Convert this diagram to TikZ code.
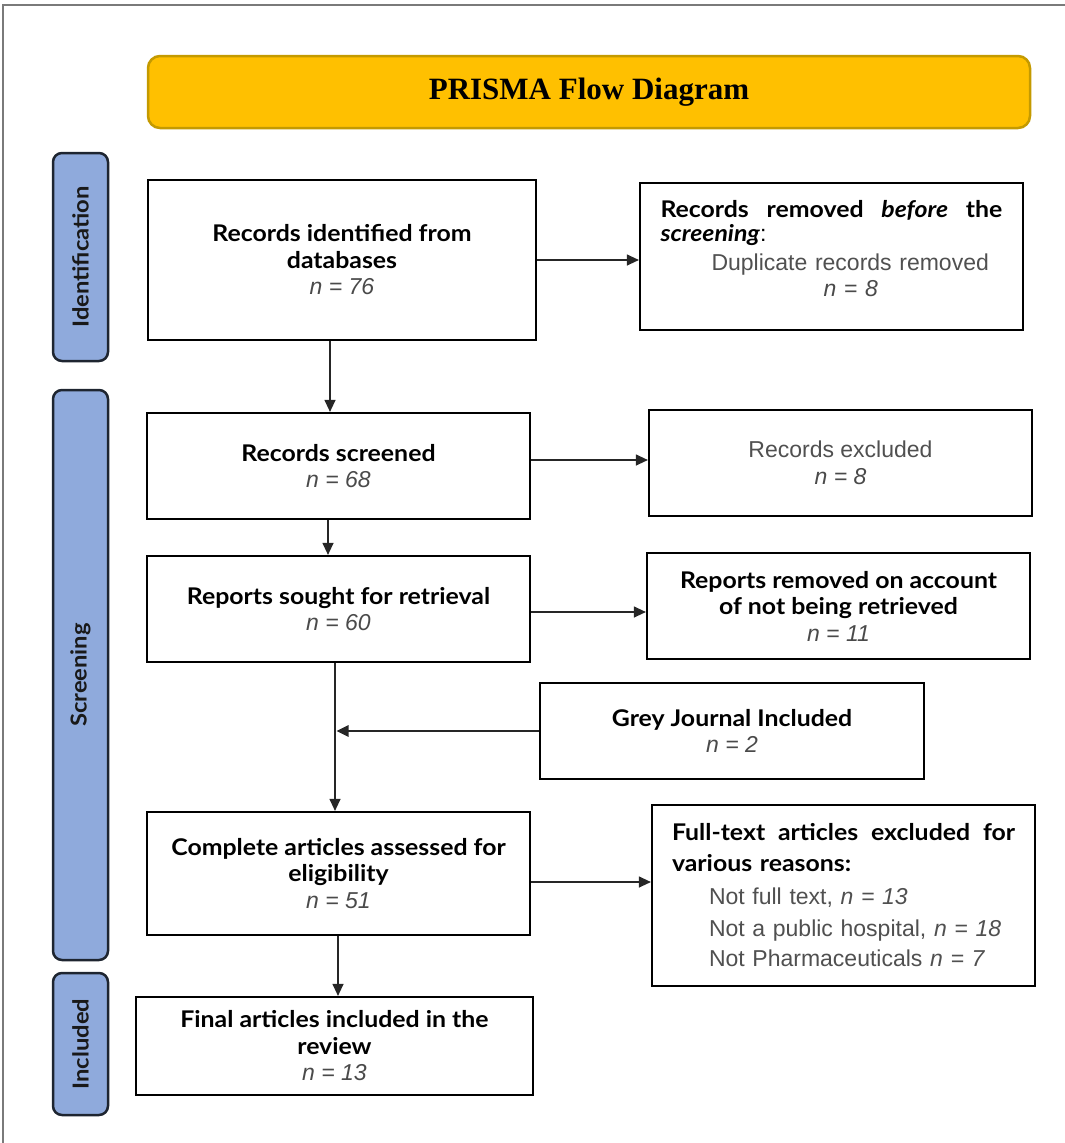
\documentclass[tikz,border=0pt]{standalone}
\usepackage{fontspec}
\setmainfont{Liberation Sans}
\newfontfamily\lato{Lato}[FakeStretch=1.08]
\newfontfamily\timesf{Liberation Serif}
\usetikzlibrary{arrows.meta}
\definecolor{gold}{HTML}{FFC000}
\definecolor{golddark}{HTML}{C49A00}
\definecolor{tabblue}{HTML}{8FAADC}
\definecolor{tabedge}{HTML}{1E2530}
\definecolor{ngray}{HTML}{4A4A4A}
\definecolor{pgray}{HTML}{505050}
\definecolor{framegray}{HTML}{7A7A7A}
\newcommand\nval[1]{{\color{ngray}\itshape n = #1}}
\newcommand\pl[1]{{\color{pgray}#1}}
\newcommand\bt[1]{{\lato\bfseries #1}}
\tikzset{
  box/.style={draw=black, line width=2.2pt, fill=white, inner sep=0pt, align=center,
    font=\fontsize{23}{26.5}\selectfont},
  tab/.style={draw=tabedge, line width=2.5pt, fill=tabblue, rounded corners=9pt, inner sep=0pt,
    rotate=90, font=\lato\bfseries\fontsize{22}{24}\selectfont, text=black!90},
  conn/.style={-{Triangle[length=12pt,width=11pt]}, line width=1.2pt, draw=black!85},
  connthick/.style={conn, line width=2.6pt},
}
\begin{document}
\begin{tikzpicture}[x=1pt,y=-1pt]
\useasboundingbox (0,0) rectangle (1065,1143);
\draw[framegray, line width=1.6pt] (1065,5) -- (3,5) -- (3,1143);

% title
\node[draw=golddark, line width=2.5pt, fill=gold, rounded corners=12pt,
  minimum width=882pt, minimum height=72pt, inner sep=0pt,
  font=\timesf\bfseries\fontsize{31}{34}\selectfont] (title) at (589,92) {PRISMA Flow Diagram};

% phase tabs
\node[tab, minimum width=208pt, minimum height=55pt] (tid) at (80.5,257) {Identification};
\node[tab, minimum width=570pt, minimum height=55pt] (tsc) at (80.5,675) {Screening};
\node[tab, minimum width=142pt, minimum height=55pt] (tin) at (80.5,1044) {Included};

% main column
\node[box, minimum width=388pt, minimum height=160pt] (b1) at (342,260)
  {\bt{Records identified from}\\ \bt{databases}\\ \nval{76}};
\node[box, minimum width=383pt, minimum height=106pt] (b3) at (338.5,466)
  {\bt{Records screened}\\ \nval{68}};
\node[box, minimum width=383pt, minimum height=106pt] (b5) at (338.5,609)
  {\bt{Reports sought for retrieval}\\ \nval{60}};
\node[box, minimum width=383pt, minimum height=123pt] (b7) at (338.5,873.5)
  {\bt{Complete articles assessed for}\\ \bt{eligibility}\\ \nval{51}};
\node[box, minimum width=397pt, minimum height=98pt] (b9) at (334.5,1046)
  {\bt{Final articles included in the}\\ \bt{review}\\ \nval{13}};

% side column
\node[box, minimum width=383pt, minimum height=147pt, align=left, text width=342pt] (b2) at (831.5,256.5)
  {\bt{\hbox to 342pt{Records\hfill removed\hfill\textit{before}\hfill the}}\\[-2pt]
   \bt{\textit{screening}}:\\[2pt]
   \hspace*{51pt}\pl{Duplicate records removed}\\
   \hspace*{163pt}\nval{8}\\[-10.5pt]\mbox{}};
\node[box, minimum width=383pt, minimum height=106pt] (b4) at (840.5,463)
  {\pl{Records excluded}\\ \nval{8}};
\node[box, minimum width=383pt, minimum height=106pt] (b6) at (838.5,606)
  {\bt{Reports removed on account}\\ \bt{of not being retrieved}\\ \nval{11}};
\node[box, minimum width=384pt, minimum height=96pt] (grey) at (732,731)
  {\bt{Grey Journal Included}\\ \nval{2}};
\node[box, minimum width=383pt, minimum height=181pt, align=left, text width=343pt,
  font=\fontsize{23}{32}\selectfont] (b8) at (843.5,895.5)
  {\bt{\hbox to 343pt{Full-text\hfill articles\hfill excluded\hfill for}}\\[-1pt]
   \bt{various reasons:}\\[1pt]
   \hspace*{37pt}\pl{Not full text, \textit{n = 13}}\\
   \hspace*{37pt}\pl{Not a public hospital, \textit{n = 18}}\\[-2pt]
   \hspace*{37pt}\pl{Not Pharmaceuticals \textit{n = 7}}};

% connectors
\draw[conn] ([xshift=-12pt]b1.south) -- ([xshift=-12pt]b1.south |- b3.north);
\draw[conn] ([xshift=-10.5pt]b3.south) -- ([xshift=-10.5pt]b3.south |- b5.north);
\draw[conn] ([xshift=-3.5pt]b5.south) -- ([xshift=-3.5pt]b5.south |- b7.north);
\coordinate (join) at ([xshift=-3.5pt]b5.south |- grey.west);
\draw[connthick] (grey.west) -- ([xshift=1.5pt]join);
\draw[conn] ([xshift=-0.5pt]b7.south) -- ([xshift=-0.5pt]b7.south |- b9.north);

\draw[conn] (b1.east) -- (b1.east -| b2.west);
\draw[conn] ([yshift=6pt]b3.east) -- ([yshift=6pt]b3.east -| b4.west);
\draw[conn] ([yshift=-3pt]b5.east) -- ([yshift=-3pt]b5.east -| b6.west);
\draw[conn] ([yshift=-8.5pt]b7.east) -- ([yshift=-8.5pt]b7.east -| b8.west);
\end{tikzpicture}
\end{document}
